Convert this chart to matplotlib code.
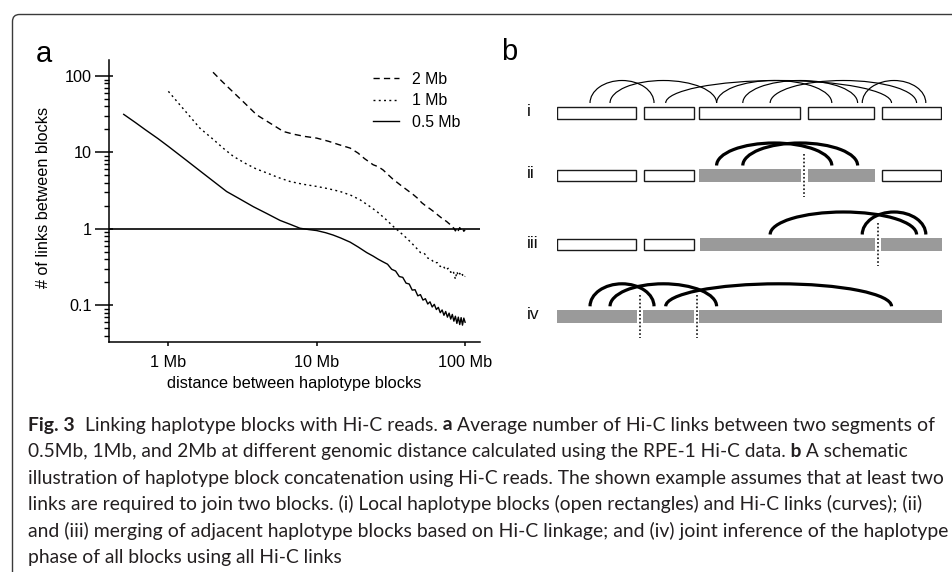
import matplotlib
matplotlib.use('Agg')
import matplotlib.pyplot as plt
from matplotlib import patches
from matplotlib import font_manager as fm
from matplotlib.lines import Line2D
from matplotlib.ticker import NullLocator

W, H, DPI = 953, 572, 100

# ---------------- panel a data (distance in Mb, mean # of links) ----------------
DIST_05 = [0.5, 0.6, 0.7, 0.85, 1.0, 1.3, 1.7, 2.0, 2.47, 3.0, 3.74, 4.6, 5.66, 6.6,
           7.7, 8.8, 10, 11.5, 12.9, 14.5, 16.8, 19, 21.7, 24, 26, 28,
           30, 32, 34, 36, 38, 40, 42, 44, 46, 48, 50, 52, 54, 56, 58, 60, 62, 64,
           66, 68, 70, 72, 74, 76, 78, 80, 82, 84, 86, 88, 90, 92, 94, 96, 98, 100]
LINKS_05 = [31.5, 24.6, 19.8, 15.2, 12.0, 8.1, 5.4, 4.23, 3.08, 2.49, 1.95, 1.59, 1.29, 1.15,
            1.02, 0.98, 0.95, 0.89, 0.83, 0.76, 0.67, 0.58, 0.49, 0.44, 0.40, 0.37,
            0.345, 0.296, 0.281, 0.238, 0.232, 0.195, 0.19, 0.158, 0.16, 0.133, 0.138, 0.117,
            0.122, 0.104, 0.111, 0.095, 0.103, 0.088, 0.094, 0.080, 0.087, 0.074, 0.083, 0.070,
            0.079, 0.066, 0.076, 0.062, 0.072, 0.058, 0.070, 0.056, 0.069, 0.055, 0.068, 0.060]

DIST_1 = [1.0, 1.2, 1.4, 1.63, 2.0, 2.35, 2.74, 3.3, 3.9, 4.6, 5.5, 6.6, 8, 10, 12, 14.4,
          17, 19.6, 22.5, 25.4, 29, 32.9, 36.5, 40.4, 44, 47, 50, 53, 56, 59, 62, 65, 68,
          71, 74, 77, 80, 83, 86, 88, 90, 92, 94, 96, 98, 100]
LINKS_1 = [63, 41.6, 29.4, 20.8, 14.9, 11.3, 8.9, 7.2, 6.1, 5.4, 4.7, 4.17, 3.85, 3.59, 3.35, 3.08,
           2.75, 2.4, 2.0, 1.69, 1.35, 1.07, 0.90, 0.755, 0.64, 0.56, 0.49, 0.48, 0.415, 0.40,
           0.36, 0.362, 0.322, 0.33, 0.29, 0.305, 0.27, 0.285, 0.22, 0.275, 0.245, 0.262,
           0.24, 0.253, 0.232, 0.24]

DIST_2 = [2.0, 2.3, 2.7, 3.2, 3.94, 4.5, 5.2, 5.96, 7, 8.3, 10, 12, 14, 16.8, 19, 21, 24,
          26, 28, 30, 32.5, 36.5, 40, 44.9, 48, 51, 55, 58, 62, 66, 70, 75, 78, 80, 82,
          84, 86, 88, 90, 92, 94, 96, 98, 100]
LINKS_2 = [112, 85, 63, 46, 31, 26.4, 22.2, 18.8, 17.3, 16.2, 15.4, 14.0, 12.7, 11.4, 9.8, 8.3,
           6.9, 6.5, 5.9, 5.2, 4.5, 3.77, 3.3, 2.79, 2.5, 2.2, 1.96, 1.83, 1.66, 1.5, 1.37,
           1.25, 1.17, 1.13, 1.06, 1.02, 0.94, 1.03, 0.95, 1.04, 0.97, 1.02, 0.93, 0.97]

SERIES_LABELS = ['2 Mb', '1 Mb', '0.5 Mb']
X_TICKS = [1, 10, 100]
X_TICK_LABELS = ['1 Mb', '10 Mb', '100 Mb']
Y_TICKS = [0.1, 1, 10, 100]
Y_TICK_LABELS = ['0.1', '1', '10', '100']
THRESHOLD = 1
X_LABEL = 'distance between haplotype blocks'
Y_LABEL = '# of links between blocks'

# ---------------- panel b data (positions along a 0-100 schematic track) ----------------
ROW_LABELS = ['i', 'ii', 'iii', 'iv']
ROW_BLOCKS = [
    [(0, 20.76, False), (22.5, 35.7, False), (36.9, 63.4, False), (65.1, 82.5, False), (84.2, 100, False)],
    [(0, 20.76, False), (22.5, 35.7, False), (36.9, 63.4, True), (65.3, 82.5, True), (84.2, 100, False)],
    [(0, 20.76, False), (22.5, 35.7, False), (37.1, 82.5, True), (84.2, 100, True)],
    [(0.2, 20.76, True), (22.5, 35.7, True), (36.9, 100, True)],
]
ROW_LINKS = [
    [(8.65, 25.26), (13.84, 41.5), (28.29, 86.9), (41.5, 71.4), (48.3, 78.1), (55.4, 93.4), (79.3, 95.8)],
    [(41.5, 71.4), (48.3, 78.1)],
    [(55.4, 93.4), (79.3, 95.8)],
    [(8.65, 25.26), (13.84, 41.5), (28.29, 86.9)],
]
ROW_JOINS = [[], [64.2], [83.3], [21.7, 36.5]]

CAPTION = [
    [("Fig. 3", 'bold'), ("  Linking haplotype blocks with Hi-C reads.", 'normal'), (" a", 'bold'),
     (" Average number of Hi-C links between two segments of", 'normal')],
    [("0.5Mb, 1Mb, and 2Mb at different genomic distance calculated using the RPE-1 Hi-C data.", 'normal'),
     (" b", 'bold'), (" A schematic", 'normal')],
    [("illustration of haplotype block concatenation using Hi-C reads. The shown example assumes that at least two", 'normal')],
    [("links are required to join two blocks. (i) Local haplotype blocks (open rectangles) and Hi-C links (curves); (ii)", 'normal')],
    [("and (iii) merging of adjacent haplotype blocks based on Hi-C linkage; and (iv) joint inference of the haplotype", 'normal')],
    [("phase of all blocks using all Hi-C links", 'normal')],
]
CAPTION_RIGHT = [933, 907, 948, 925, 951, None]

# ---------------- setup ----------------
plt.rcParams['font.family'] = ['Liberation Sans', 'DejaVu Sans']
plt.rcParams['axes.unicode_minus'] = False

def has_font(name):
    try:
        fm.findfont(fm.FontProperties(family=name), fallback_to_default=False)
        return True
    except Exception:
        return False

CAP_FAMILY = ['Lato', 'DejaVu Sans'] if has_font('Lato') else ['DejaVu Sans']
CAP_COLOR = '#231f20'

fig = plt.figure(figsize=(W / DPI, H / DPI), dpi=DPI)
fig.patch.set_facecolor('white')

# overlay in pixel units for frame
ov = fig.add_axes([0, 0, 1, 1])
ov.set_xlim(0, W)
ov.set_ylim(H, 0)
ov.axis('off')
ov.set_facecolor('none')
frame = patches.FancyBboxPatch((12.5, 14.5), 1000, 700,
                               boxstyle='round,pad=0,rounding_size=7',
                               fill=False, ec='#3a3a3a', lw=1.0)
ov.add_patch(frame)

# ---------------- panel a ----------------
ax = fig.add_axes([109 / W, 1 - 342 / H, 371 / W, 282 / H])
ax.set_xscale('log')
ax.set_yscale('log')
ls_dash = (0, (4.5, 3.0))
ls_dot = (0, (1.4, 2.4))
lw = 1.0
ax.plot(DIST_2, LINKS_2, color='black', lw=lw, ls=ls_dash)
ax.plot(DIST_1, LINKS_1, color='black', lw=lw, ls=ls_dot)
ax.plot(DIST_05, LINKS_05, color='black', lw=lw, ls='-')
ax.axhline(THRESHOLD, color='black', lw=1.2)
ax.set_xlim(0.398, 126)
ax.set_ylim(0.0331, 162)
for s in ['top', 'right']:
    ax.spines[s].set_visible(False)
for s in ['left', 'bottom']:
    ax.spines[s].set_linewidth(1.1)
ax.set_xticks(X_TICKS, X_TICK_LABELS)
ax.xaxis.set_minor_locator(NullLocator())
ax.set_yticks(Y_TICKS, Y_TICK_LABELS)
ax.tick_params(axis='x', which='major', direction='out', length=3, width=1.1, labelsize=11.7, pad=6.5)
ax.tick_params(axis='y', which='major', direction='out', length=10, width=1.1, labelsize=11.7, pad=2.5)
ax.tick_params(axis='y', which='minor', direction='out', length=3.6, width=1.0)
sec = ax.secondary_yaxis('left')
sec.set_yticks(Y_TICKS)
sec.yaxis.set_minor_locator(NullLocator())
sec.tick_params(axis='y', which='major', direction='in', length=3, width=1.1, labelleft=False)
sec.spines['left'].set_visible(False)

ax.set_xlabel(X_LABEL, fontsize=11.8)
ax.xaxis.set_label_coords(0.5, -0.12)
ax.set_ylabel(Y_LABEL, fontsize=11.7)
ax.yaxis.set_label_coords(-0.157, 0.514)

handles = [Line2D([], [], color='black', lw=lw, ls=ls_dash),
           Line2D([], [], color='black', lw=lw, ls=ls_dot),
           Line2D([], [], color='black', lw=lw, ls='-')]
ax.legend(handles, SERIES_LABELS, loc='upper left',
          bbox_to_anchor=((373 - 109) / 371, (342 - 71.5) / 282),
          frameon=False, borderpad=0, borderaxespad=0, handlelength=1.62,
          handletextpad=0.85, labelspacing=0.42, fontsize=11.4)

# ---------------- panel b ----------------
bx = fig.add_axes([556.7 / W, 1 - 350 / H, (942 - 556.7) / W, 320 / H])
bx.set_xlim(0, 100)
bx.set_ylim(350, 30)
bx.axis('off')
bx.set_facecolor('none')
ROW_Y = [113, 175.5, 244.5, 316.3]
BLOCK_H = 12.4
ARC_H = 22.5
GRAY = '#9a9a9a'
for r, yc in enumerate(ROW_Y):
    for (x0, x1, filled) in ROW_BLOCKS[r]:
        if filled:
            bx.add_patch(patches.Rectangle((x0, yc - BLOCK_H / 2), x1 - x0, BLOCK_H,
                                           fc=GRAY, ec='none', lw=0))
        else:
            bx.add_patch(patches.Rectangle((x0 + 0.15, yc - BLOCK_H / 2 + 0.6), x1 - x0 - 0.3, BLOCK_H - 1.2,
                                           fc='white', ec='#1a1a1a', lw=1.0))
    base = yc - 10
    lwa = 0.85 if r == 0 else 2.3
    for (a, b) in ROW_LINKS[r]:
        bx.add_patch(patches.Arc(((a + b) / 2, base), b - a, 2 * ARC_H, theta1=180, theta2=360,
                                 color='black', lw=lwa))
    for xj in ROW_JOINS[r]:
        bx.plot([xj, xj], [yc - 21.5, yc + 21.5], color='black', lw=1.1, ls=(0, (1.1, 1.4)))
    bx.text(-7.8, yc - 1.5, ROW_LABELS[r], fontsize=12.5, ha='left', va='center', color='#111111')

# panel labels
fig.text(36 / W, 1 - 62 / H, 'a', fontsize=21, ha='left', va='baseline')
fig.text(501 / W, 1 - 60 / H, 'b', fontsize=21, ha='left', va='baseline')

# ---------------- caption ----------------
renderer = fig.canvas.get_renderer()

def seg_widths(segs, size):
    out = []
    for s, wgt in segs:
        t = fig.text(0, 0, s, fontsize=size, fontweight=wgt, family=CAP_FAMILY)
        out.append(t.get_window_extent(renderer).width)
        t.remove()
    return out

X0 = 28
BASE0 = 430.5
PITCH = 26.6
sizes = []
for i, segs in enumerate(CAPTION):
    if CAPTION_RIGHT[i] is not None:
        w = sum(seg_widths(segs, 10))
        sizes.append(10 * (CAPTION_RIGHT[i] - X0) / w)
    else:
        sizes.append(None)
ref_size = sum(s for s in sizes if s) / len([s for s in sizes if s])
for i, segs in enumerate(CAPTION):
    size = sizes[i] if sizes[i] else ref_size
    ws = seg_widths(segs, size)
    x = X0
    yb = BASE0 + i * PITCH
    for (s, wgt), w in zip(segs, ws):
        fig.text(x / W, 1 - yb / H, s, fontsize=size, fontweight=wgt, family=CAP_FAMILY,
                 ha='left', va='baseline', color=CAP_COLOR)
        x += w

fig.savefig('out.png', dpi=DPI, facecolor='white')
